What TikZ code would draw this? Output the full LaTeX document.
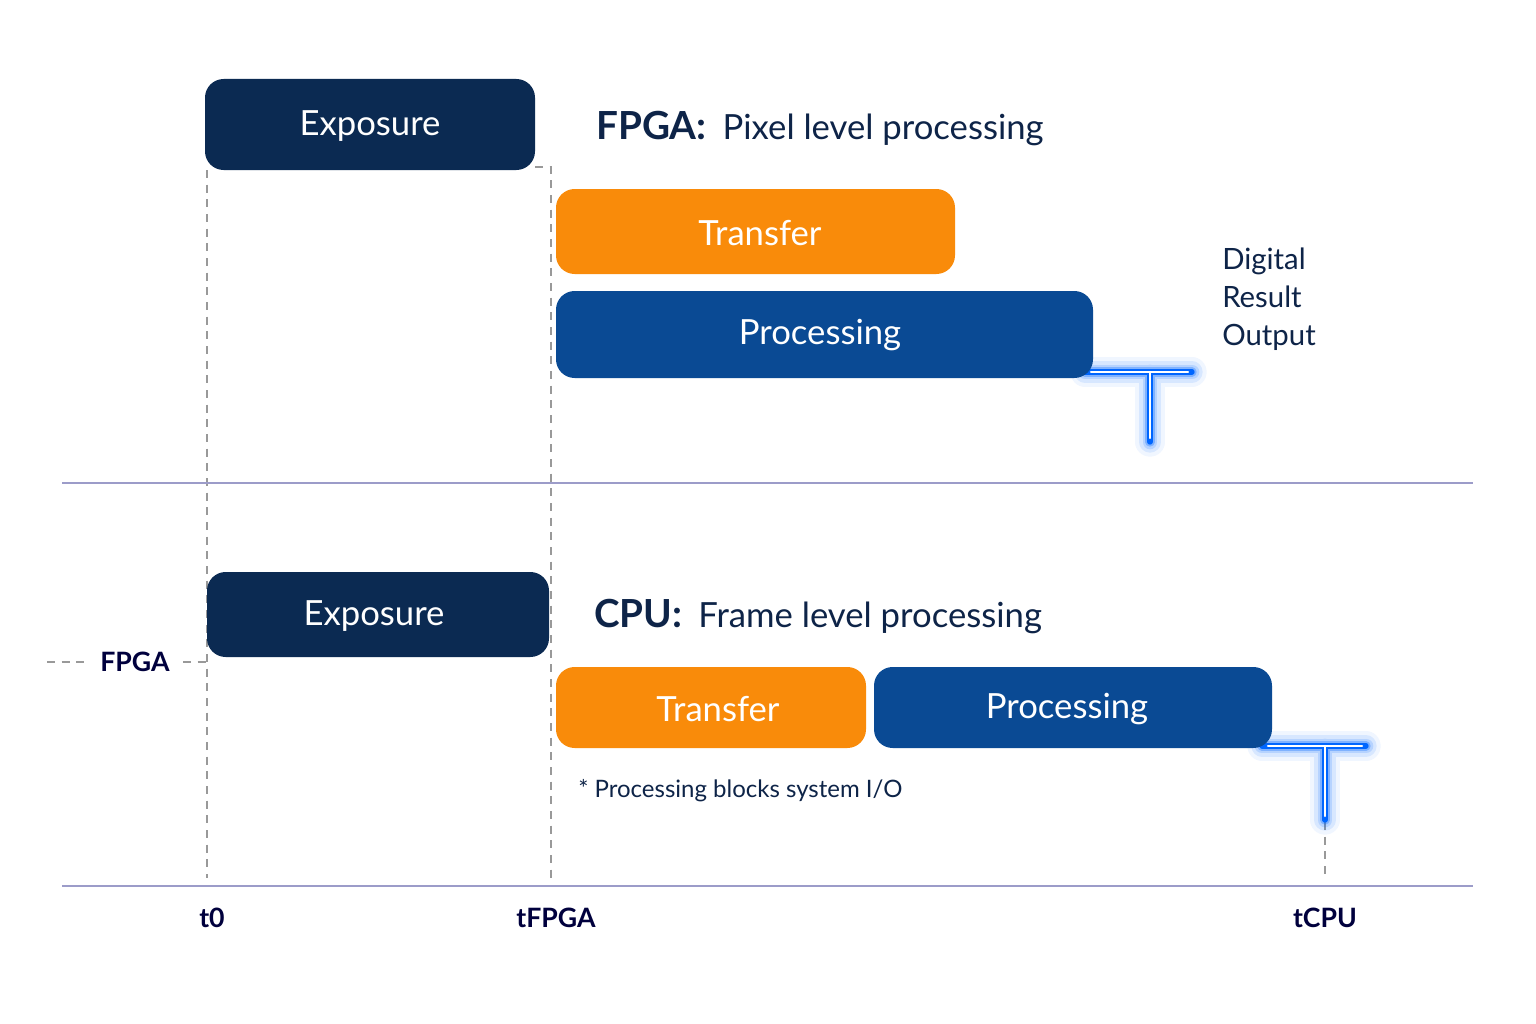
\documentclass[tikz,border=0pt]{standalone}
\usepackage{fontspec}
\setmainfont{Lato}
\begin{document}
\begin{tikzpicture}[x=0.75pt,y=-0.75pt,
  box/.style={rounded corners=14pt,inner sep=0pt},
  btxt/.style={text=white,font=\fontsize{26}{30}\selectfont},
  guide/.style={draw=gray!80,line width=1.2pt,dash pattern=on 6pt off 5pt},
  axis/.style={draw=gray!70!blue!60,line width=1.6pt},
  lbl/.style={text=black!70!blue!80!black,font=\bfseries\fontsize{20}{24}\selectfont},
  glow/.style={line cap=round,draw=blue!60!cyan}]
\definecolor{navy}{HTML}{0B2A52}
\definecolor{orng}{HTML}{F98B0A}
\definecolor{blu}{HTML}{0A4A94}
\definecolor{ink}{HTML}{0E2448}
\useasboundingbox (0,0) rectangle (1536,1024);
\fill[white] (0,0) rectangle (1536,1024);
% dashed guides
\coordinate (a0) at (207,170); \coordinate (a1) at (207,878);
\draw[guide] (a0) -- (a1);
\draw[guide] (535,167) -- (551,167) -- (551,878);
\draw[guide] (1325,822) -- (1325,878);
\draw[guide] (47,662) -- (88,662);
\draw[guide] (183,662) -- (207,662);
% axes
\draw[axis] (62,483) -- (1473,483);
\draw[axis] (62,886) -- (1473,886);
% glow T's
\foreach \hx/\hy/\hr/\vx/\vb in {1085/372/1192/1150/442, 1262/746/1366/1325/820}{
  \foreach \w/\o in {22/0.06,16/0.1,11/0.15,7/0.3}{
    \draw[glow,line width=\w pt,opacity=\o] (\hx,\hy) -- (\hr,\hy) (\vx,\hy) -- (\vx,\vb);}
  \draw[glow,line width=4pt] (\hx,\hy) -- (\hr,\hy) (\vx,\hy) -- (\vx,\vb);
  \draw[white,line width=1.6pt,line cap=round] (\hx+6,\hy) -- (\hr-4,\hy) (\vx,\hy) -- (\vx,\vb-4);
}
% boxes
\fill[navy,box] (205,79) rectangle (535,170);
\node[btxt] (exp1) at (370,126) {Exposure};
\fill[orng,box] (556,189) rectangle (955,274);
\node[btxt] (tr1) at (760,233) {Transfer};
\fill[blu,box] (556,291) rectangle (1093,378);
\node[btxt] (pr1) at (820,335) {Processing};
\fill[navy,box] (207,572) rectangle (549,657);
\node[btxt] (exp2) at (374,616) {Exposure};
\fill[orng,box] (556,667) rectangle (866,748);
\node[btxt] (tr2) at (718,709) {Transfer};
\fill[blu,box] (874,667) rectangle (1272,748);
\node[btxt] (pr2) at (1067,709) {Processing};
% titles
\node[anchor=base west,text=ink,inner sep=0pt] (t1) at (596,140) {\bfseries\fontsize{29}{34}\selectfont FPGA:\hspace{12pt}\mdseries\fontsize{26}{30}\selectfont Pixel level processing};
\node[anchor=base west,text=ink,inner sep=0pt] (t2) at (594,627) {\bfseries\fontsize{29}{34}\selectfont CPU:\hspace{12pt}\mdseries\fontsize{26}{30}\selectfont Frame level processing};
\node[anchor=north west,text=ink,align=left,inner sep=0pt,font=\fontsize{22}{28.5}\selectfont] (dro) at (1222,248) {Digital\\Result\\Output};
\node[anchor=base west,text=ink,inner sep=0pt,font=\fontsize{18}{22}\selectfont] (note) at (578,797) {* Processing blocks system I/O};
% labels
\node[lbl] (fp) at (135,662) {FPGA};
\node[lbl] (l0) at (212,918) {t0};
\node[lbl] (l1) at (556,918) {tFPGA};
\node[lbl] (l2) at (1325,918) {tCPU};
\end{tikzpicture}
\end{document}
